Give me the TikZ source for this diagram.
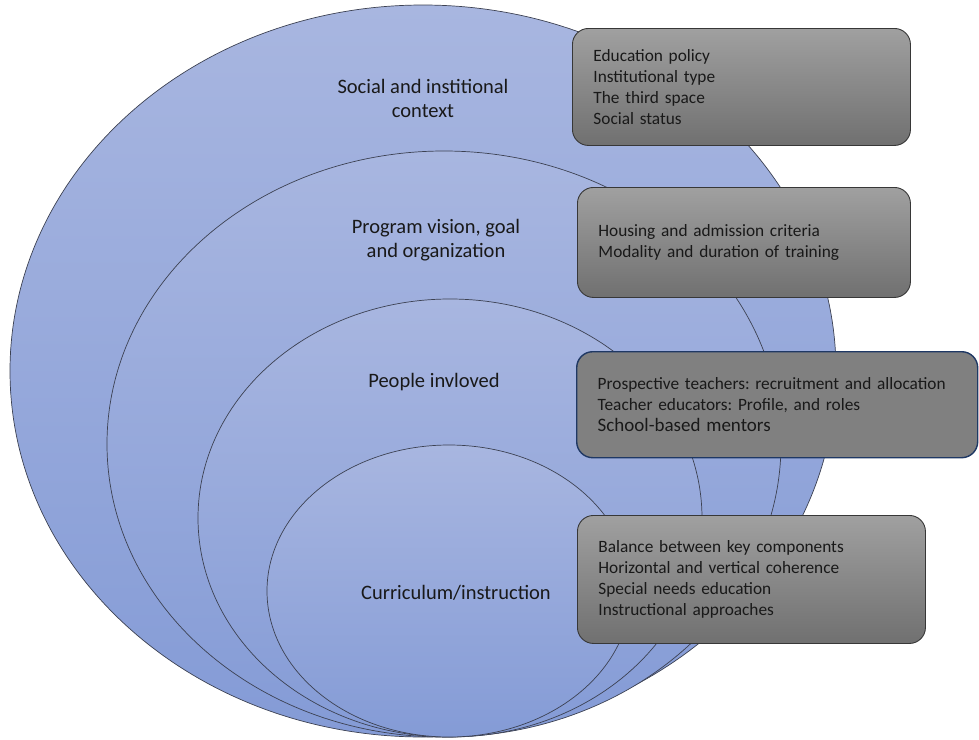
\documentclass[tikz,border=0pt]{standalone}
\usepackage{fontspec}
\setmainfont{Carlito}
\usetikzlibrary{shapes.geometric}
\frenchspacing
\definecolor{ringtop}{RGB}{168,182,224}
\definecolor{ringbot}{RGB}{132,155,214}
\definecolor{ringline}{RGB}{60,65,82}
\definecolor{boxtop}{RGB}{160,160,160}
\definecolor{boxbot}{RGB}{112,112,112}
\definecolor{boxline}{RGB}{55,55,55}
\definecolor{navyline}{RGB}{31,56,100}
\definecolor{plaingray}{RGB}{128,128,128}
\definecolor{inktext}{RGB}{25,25,25}
\begin{document}
\begin{tikzpicture}[x=1pt,y=-1pt,
  ring/.style={ellipse, draw=ringline, line width=0.7pt,
    top color=ringtop, bottom color=ringbot, inner sep=0pt, outer sep=0pt},
  infobox/.style={rectangle, rounded corners=16pt, draw=boxline, line width=0.9pt,
    top color=boxtop, bottom color=boxbot, anchor=north west, align=left,
    inner xsep=21pt, inner ysep=0pt, text=inktext,
    font=\fontsize{17.3}{21}\selectfont},
  ringlabel/.style={align=center, text=inktext, font=\fontsize{20.5}{24}\selectfont}]
\useasboundingbox (0,0) rectangle (979,739);

% nested layers, outermost first
\node[ring, minimum width=826pt, minimum height=732pt] (social) at (423,371) {};
\node[ring, minimum width=674pt, minimum height=586pt] (program) at (444,444) {};
\node[ring, minimum width=504pt, minimum height=438pt] (people) at (450,518) {};
\node[ring, minimum width=364pt, minimum height=292pt] (curric) at (449,591) {};

% layer titles
\node[ringlabel] (socialtxt) at (423,98) {Social and institional\\context};
\node[ringlabel] (programtxt) at (436,240) {Program vision, goal\\and organization};
\node[ringlabel] (peopletxt) at (434,382) {People invloved};
\node[ringlabel] (currictxt) at (456,593) {Curriculum/instruction};

% detail boxes
\node[infobox, text width=296pt, minimum height=117pt] (box1) at (572,28)
  {Education policy\\Institutional type\\The third space\\Social status};
\node[infobox, text width=291pt, minimum height=110pt] (box2) at (577,187)
  {Housing and admission criteria\\Modality and duration of training};
\node[infobox, draw=navyline, line width=1.4pt, top color=plaingray, bottom color=plaingray,
  text width=359pt, minimum height=106pt] (box3) at (576,351)
  {Prospective teachers: recruitment and allocation\\
   Teacher educators: Profile, and roles\\
   {\fontsize{19}{23}\selectfont School-based mentors}};
\node[infobox, text width=306pt, minimum height=128pt] (box4) at (577,515)
  {Balance between key components\\Horizontal and vertical coherence\\
   Special needs education\\Instructional approaches};
\end{tikzpicture}
\end{document}
